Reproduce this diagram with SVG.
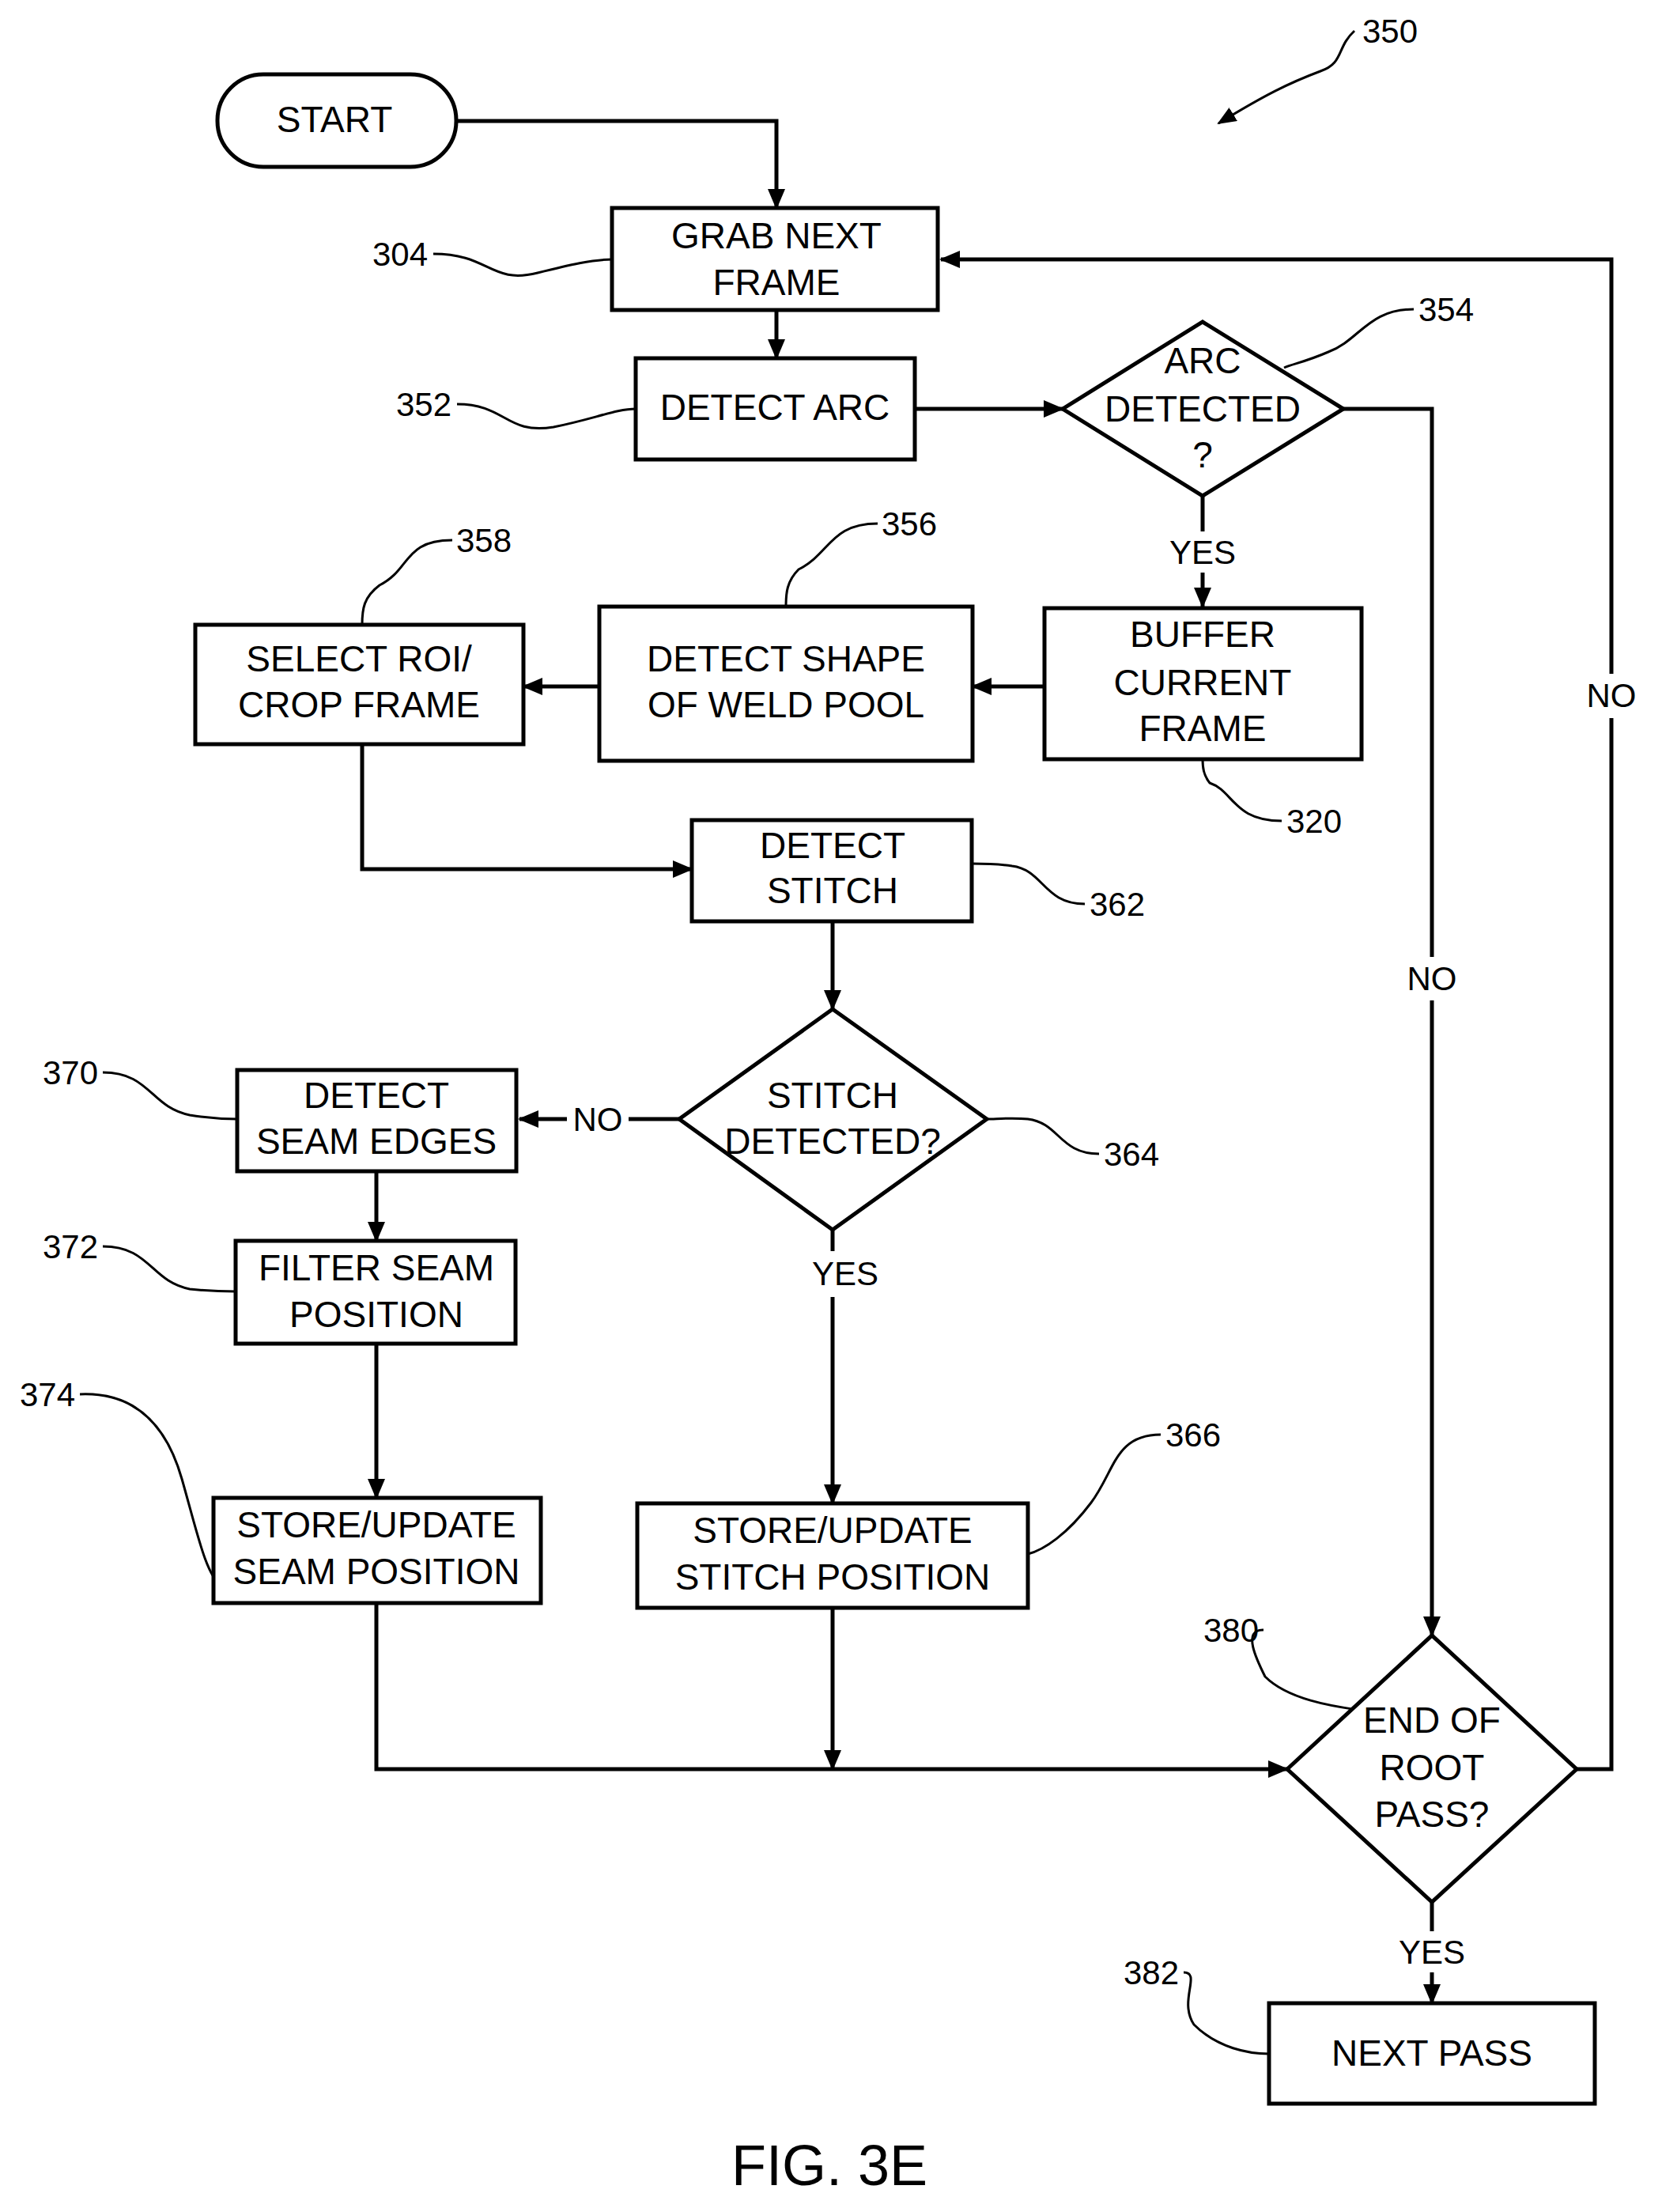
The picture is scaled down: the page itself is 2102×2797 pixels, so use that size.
<svg xmlns="http://www.w3.org/2000/svg" width="2102" height="2797" viewBox="0 0 2102 2797">
<style>
.b{fill:#fff;stroke:#000;stroke-width:5}
.t{font-family:"Liberation Sans",Arial,sans-serif;font-size:46px;text-anchor:middle;dominant-baseline:central;fill:#000}
.n{font-family:"Liberation Sans",Arial,sans-serif;font-size:42px;text-anchor:middle;dominant-baseline:central;fill:#000}
.c{fill:none;stroke:#000;stroke-width:5}
.a{marker-end:url(#ah)}
.l{fill:none;stroke:#000;stroke-width:3}
</style>
<defs>
<marker id="ah" markerUnits="userSpaceOnUse" markerWidth="26" markerHeight="22" refX="24" refY="11" orient="auto"><path d="M0,0 L26,11 L0,22 Z" fill="#000"/></marker>
<marker id="ah2" markerUnits="userSpaceOnUse" markerWidth="24" markerHeight="20" refX="22" refY="10" orient="auto"><path d="M0,0 L24,10 L0,20 Z" fill="#000"/></marker>
</defs>
<g id="connectors">
<path class="c a" d="M577,153 H982 V263"/>
<path class="c a" d="M982,392 V453"/>
<path class="c a" d="M1157,517 H1344"/>
<path class="c" d="M1699,517 H1811 V1210"/>
<path class="c a" d="M1811,1265 V2068"/>
<path class="c" d="M1521,627 V672"/>
<path class="c a" d="M1521,724 V767"/>
<path class="c a" d="M1321,868 H1230"/>
<path class="c a" d="M758,868 H662"/>
<path class="c a" d="M458,941 V1099 H875"/>
<path class="c a" d="M1053,1165 V1276"/>
<path class="c" d="M859,1415 H795"/>
<path class="c a" d="M717,1415 H657"/>
<path class="c a" d="M476,1481 V1569"/>
<path class="c a" d="M476,1699 V1894"/>
<path class="c" d="M1053,1555 V1582"/>
<path class="c a" d="M1053,1640 V1901"/>
<path class="c" d="M476,2027 V2237 H1053"/>
<path class="c a" d="M1053,2033 V2237"/>
<path class="c a" d="M1053,2237 H1628"/>
<path class="c" d="M1994,2237 H2038 V908"/>
<path class="c a" d="M2038,852 V328 H1190"/>
<path class="c" d="M1811,2405 V2442"/>
<path class="c a" d="M1811,2494 V2533"/>
<text class="n" x="1521" y="698">YES</text>
<text class="n" x="1811" y="1237">NO</text>
<text class="n" x="756" y="1415">NO</text>
<text class="n" x="1069" y="1610">YES</text>
<text class="n" x="2038" y="879">NO</text>
<text class="n" x="1811" y="2468">YES</text>
</g>
<g id="leaders">
<path class="l" style="marker-end:url(#ah2)" d="M1713,39 C1690,60 1700,80 1670,90 C1630,105 1600,120 1541,156"/>
<text class="n" x="1758" y="39">350</text>
<path class="l" d="M548,321 C620,321 620,360 680,345 C720,335 750,328 774,328"/>
<text class="n" x="506" y="321">304</text>
<path class="l" d="M578,511 C640,511 640,550 700,540 C750,530 780,517 804,517"/>
<text class="n" x="536" y="511">352</text>
<path class="l" d="M1788,391 C1730,391 1720,430 1680,445 C1650,458 1635,460 1624,465"/>
<text class="n" x="1829" y="391">354</text>
<path class="l" d="M572,683 C510,683 520,720 480,740 C460,755 458,770 458,790"/>
<text class="n" x="612" y="683">358</text>
<path class="l" d="M1110,662 C1050,662 1050,700 1010,720 C995,735 994,750 994,767"/>
<text class="n" x="1150" y="662">356</text>
<path class="l" d="M1621,1038 C1560,1038 1560,1000 1530,990 C1522,980 1521,970 1521,960"/>
<text class="n" x="1662" y="1038">320</text>
<path class="l" d="M1372,1143 C1320,1143 1320,1100 1280,1095 C1260,1092 1240,1092 1229,1092"/>
<text class="n" x="1413" y="1143">362</text>
<path class="l" d="M1390,1459 C1340,1459 1340,1420 1300,1415 C1280,1413 1260,1415 1248,1415"/>
<text class="n" x="1431" y="1459">364</text>
<path class="l" d="M130,1356 C190,1356 190,1400 240,1410 C270,1415 290,1415 300,1415"/>
<text class="n" x="89" y="1356">370</text>
<path class="l" d="M130,1576 C190,1576 190,1620 240,1630 C270,1633 290,1633 298,1633"/>
<text class="n" x="89" y="1576">372</text>
<path class="l" d="M101,1763 C170,1760 210,1800 230,1870 C250,1940 260,1990 280,2006"/>
<text class="n" x="60" y="1763">374</text>
<path class="l" d="M1468,1814 C1410,1814 1410,1860 1380,1900 C1350,1940 1320,1960 1300,1965"/>
<text class="n" x="1509" y="1814">366</text>
<path class="l" d="M1598,2061 C1570,2060 1590,2100 1600,2120 C1630,2150 1690,2158 1717,2162"/>
<text class="n" x="1557" y="2061">380</text>
<path class="l" d="M1497,2494 C1520,2494 1490,2530 1510,2560 C1540,2590 1580,2597 1605,2597"/>
<text class="n" x="1456" y="2494">382</text>
</g>
<g id="start"><rect class="b" x="275" y="94" width="302" height="117" rx="58"/><text class="t" x="423" y="151">START</text></g>
<g id="n304"><rect class="b" x="774" y="263" width="412" height="129"/><text class="t" x="982" y="298">GRAB NEXT</text><text class="t" x="982" y="357">FRAME</text></g>
<g id="n352"><rect class="b" x="804" y="453" width="353" height="128"/><text class="t" x="980" y="515">DETECT ARC</text></g>
<g id="n354"><polygon class="b" points="1344,517 1521,407 1699,517 1521,627"/><text class="t" x="1521" y="456">ARC</text><text class="t" x="1521" y="517">DETECTED</text><text class="t" x="1521" y="575">?</text></g>
<g id="n320"><rect class="b" x="1321" y="769" width="401" height="191"/><text class="t" x="1521" y="802">BUFFER</text><text class="t" x="1521" y="863">CURRENT</text><text class="t" x="1521" y="921">FRAME</text></g>
<g id="n356"><rect class="b" x="758" y="767" width="472" height="195"/><text class="t" x="994" y="833">DETECT SHAPE</text><text class="t" x="994" y="891">OF WELD POOL</text></g>
<g id="n358"><rect class="b" x="247" y="790" width="415" height="151"/><text class="t" x="454" y="833">SELECT ROI/</text><text class="t" x="454" y="891">CROP FRAME</text></g>
<g id="n362"><rect class="b" x="875" y="1037" width="354" height="128"/><text class="t" x="1053" y="1069">DETECT</text><text class="t" x="1053" y="1126">STITCH</text></g>
<g id="n364"><polygon class="b" points="859,1415 1053,1276 1248,1415 1053,1555"/><text class="t" x="1053" y="1385">STITCH</text><text class="t" x="1053" y="1443">DETECTED?</text></g>
<g id="n370"><rect class="b" x="300" y="1353" width="353" height="128"/><text class="t" x="476" y="1385">DETECT</text><text class="t" x="476" y="1443">SEAM EDGES</text></g>
<g id="n372"><rect class="b" x="298" y="1569" width="354" height="130"/><text class="t" x="476" y="1603">FILTER SEAM</text><text class="t" x="476" y="1662">POSITION</text></g>
<g id="n374"><rect class="b" x="270" y="1894" width="414" height="133"/><text class="t" x="476" y="1928">STORE/UPDATE</text><text class="t" x="476" y="1987">SEAM POSITION</text></g>
<g id="n366"><rect class="b" x="806" y="1901" width="494" height="132"/><text class="t" x="1053" y="1935">STORE/UPDATE</text><text class="t" x="1053" y="1994">STITCH POSITION</text></g>
<g id="n380"><polygon class="b" points="1628,2237 1811,2068 1994,2237 1811,2405"/><text class="t" x="1811" y="2175">END OF</text><text class="t" x="1811" y="2235">ROOT</text><text class="t" x="1811" y="2294">PASS?</text></g>
<g id="n382"><rect class="b" x="1605" y="2533" width="412" height="127"/><text class="t" x="1811" y="2596">NEXT PASS</text></g>
<text x="1049" y="2738" style="font-family:'Liberation Sans',Arial,sans-serif;font-size:72px;text-anchor:middle;dominant-baseline:central">FIG. 3E</text>
</svg>
